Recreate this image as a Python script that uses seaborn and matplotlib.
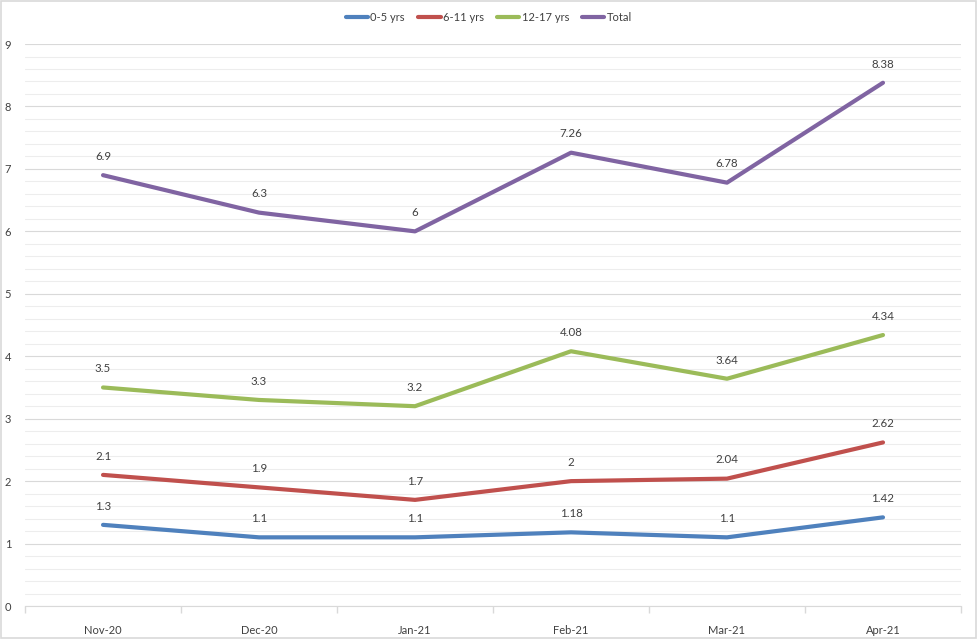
import matplotlib
matplotlib.use("Agg")
import matplotlib.pyplot as plt
import seaborn as sns
import pandas as pd
import numpy as np
from matplotlib.ticker import MultipleLocator, FixedLocator
from matplotlib.patches import Rectangle

months = ["Nov-20", "Dec-20", "Jan-21", "Feb-21", "Mar-21", "Apr-21"]
age_0_5 = [1.3, 1.1, 1.1, 1.18, 1.1, 1.42]
age_6_11 = [2.1, 1.9, 1.7, 2.0, 2.04, 2.62]
age_12_17 = [3.5, 3.3, 3.2, 4.08, 3.64, 4.34]
total = [6.9, 6.3, 6.0, 7.26, 6.78, 8.38]
series_names = ["0-5 yrs", "6-11 yrs", "12-17 yrs", "Total"]
colors = ["#4F81BD", "#C0504D", "#9BBB59", "#8064A2"]

sns.set_theme(style="white")
plt.rcParams['font.family'] = ['Lato', 'DejaVu Sans']

rows = []
for name, vals in zip(series_names, [age_0_5, age_6_11, age_12_17, total]):
    for i, (m, v) in enumerate(zip(months, vals)):
        rows.append({"idx": i, "month": m, "value": v, "series": name})
df = pd.DataFrame(rows)

fig = plt.figure(figsize=(9.78, 6.39), dpi=100)
ax = fig.add_axes([0.0256, 0.0516, 0.957, 0.8795])

sns.lineplot(data=df, x="idx", y="value", hue="series", hue_order=series_names,
             palette=colors, linewidth=3, ax=ax, legend=True, solid_capstyle="round")

for _, r in df.iterrows():
    lbl = f"{r['value']:g}"
    ax.annotate(lbl, (r["idx"], r["value"]), xytext=(0, 9.5), textcoords="offset points",
                ha="center", va="bottom", fontsize=8.3, color="#404040")

ax.set_xlim(-0.5, 5.5)
ax.set_ylim(0, 9)
ax.yaxis.set_major_locator(MultipleLocator(1))
ax.yaxis.set_minor_locator(MultipleLocator(0.2))
ax.grid(which="major", axis="y", color="#D9D9D9", linewidth=0.8)
ax.grid(which="minor", axis="y", color="#EDEDED", linewidth=0.8)
ax.set_axisbelow(True)

ax.set_xticks(range(len(months)))
ax.set_xticklabels(months)
ax.xaxis.set_minor_locator(FixedLocator(np.arange(-0.5, 6, 1)))
ax.tick_params(axis="x", which="major", length=0, pad=14, labelsize=8, labelcolor="#404040")
ax.tick_params(axis="x", which="minor", length=5, color="#D9D9D9", direction="out", bottom=True)
ax.tick_params(axis="y", which="both", length=0, pad=10, labelsize=8, labelcolor="#404040")

for s in ["top", "right", "left"]:
    ax.spines[s].set_visible(False)
ax.spines["bottom"].set_color("#D9D9D9")
ax.spines["bottom"].set_linewidth(0.8)
ax.set_xlabel("")
ax.set_ylabel("")

handles, labels = ax.get_legend_handles_labels()
ax.legend(handles, labels, loc="upper center", ncol=4,
          frameon=False, fontsize=8, handlelength=2.0, handletextpad=0.2, columnspacing=1.2,
          labelcolor="#404040")
ax.get_legend().set_bbox_to_anchor((0.5, 0.997), transform=fig.transFigure)

fig.patches.append(Rectangle((0.001, 0.001), 0.997, 0.997, transform=fig.transFigure,
                             fill=False, edgecolor="#D9D9D9", linewidth=1.2))

fig.savefig("out.png", dpi=100)
